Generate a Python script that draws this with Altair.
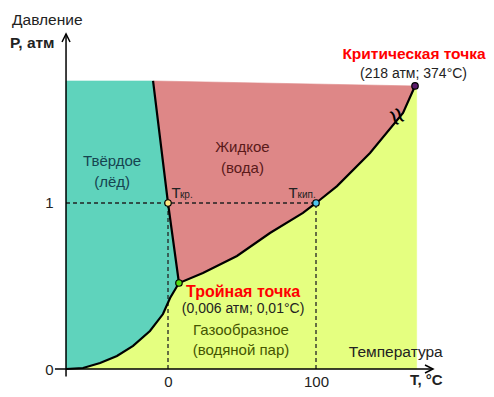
import altair as alt
import pandas as pd

# ---- data (schematic phase diagram of water; T in °C, P in atm) ----
SUB_T = [-68.9, -57.4, -45.9, -34.5, -23.6, -12.2, -3.4, 1.4, 7.4]
SUB_P = [0.0, 0.006, 0.036, 0.078, 0.139, 0.229, 0.331, 0.428, 0.518]
MELT_T = [7.4, 0.0, -10.1]
MELT_P = [0.518, 1.0, 1.735]
VAP_T = [7.4, 23.6, 46.6, 68.9, 91.2, 100.0, 114.2, 136.5, 158.8, 166.9]
VAP_P = [0.518, 0.578, 0.681, 0.819, 0.940, 1.0, 1.102, 1.301, 1.542, 1.705]
T_LEFT = -68.9
T_RIGHT = 168.0
P_TOP_LEFT = 1.735
P_TOP_RIGHT = 1.705
X_TICKS = [0, 100]
Y_TICKS = [0, 1]
PT_NAMES = ["Tкр", "Tкип", "triple", "critical"]
PT_T = [0.0, 100.0, 7.4, 166.9]
PT_P = [1.0, 1.0, 0.518, 1.705]

FONT = "Liberation Sans"
XS = alt.Scale(domain=[-68.92, 179.05], nice=False, zero=False)
YS = alt.Scale(domain=[0, 2.018], nice=False, zero=False)
XAX = alt.Axis(values=X_TICKS, title=None, domain=False, ticks=False, tickSize=0, grid=False,
               labelPadding=5, labelFontSize=15, labelFont=FONT, labelColor="#222")
YAX = alt.Axis(values=Y_TICKS, title=None, domain=False, ticks=False, tickSize=0, grid=False,
               labelPadding=13, labelFontSize=15, labelFont=FONT, labelColor="#222")


def X(f):
    return alt.X(f, type="quantitative", scale=XS, axis=XAX)


def Y(f):
    return alt.Y(f, type="quantitative", scale=YS, axis=YAX)


def pts(ts, ps):
    return list(zip(ts, ps))


sub = pts(SUB_T, SUB_P)
melt = pts(MELT_T, MELT_P)
vap = pts(VAP_T, VAP_P)

solid = [(T_LEFT, P_TOP_LEFT)] + melt[::-1] + sub[::-1][1:]
liquid = [melt[-1]] + vap[::-1] + melt[1:-1]
gas = sub + vap[1:] + [(T_RIGHT, P_TOP_RIGHT), (T_RIGHT, 0.0)]


def poly_df(p):
    return pd.DataFrame({"x": [a for a, b in p], "y": [b for a, b in p], "i": list(range(len(p)))})


def polygon(p, color):
    return alt.Chart(poly_df(p)).mark_line(
        interpolate="linear-closed", fill=color, stroke=color, strokeWidth=0.6
    ).encode(x=X("x"), y=Y("y"), order="i:Q")


def curve(p, w=2.2):
    return alt.Chart(poly_df(p)).mark_line(color="black", strokeWidth=w).encode(
        x=X("x"), y=Y("y"), order="i:Q")


layers = [
    polygon(gas, "#e5ff80"),
    polygon(liquid, "#de8787"),
    polygon(solid, "#5fd3bc"),
]

# dashed guide lines
dash = pd.DataFrame({
    "x": [T_LEFT, PT_T[0], PT_T[1]],
    "x2": [PT_T[1], PT_T[0], PT_T[1]],
    "y": [1.0, 0.0, 0.0],
    "y2": [1.0, PT_P[0], PT_P[1]],
})
layers.append(alt.Chart(dash).mark_rule(color="#222", strokeWidth=1.3, strokeDash=[4, 3]).encode(
    x=X("x"), x2="x2", y=Y("y"), y2="y2"))

layers += [curve(sub + vap[1:]), curve(melt)]


def txt(text, x, y, size, color="#222", weight="normal", align="center", angle=0, baseline="alphabetic"):
    return alt.Chart(pd.DataFrame({"x": [x], "y": [y], "t": [text]})).mark_text(
        font=FONT, fontSize=size, color=color, fontWeight=weight, align=align,
        baseline=baseline, angle=angle).encode(x=X("x"), y=Y("y"), text="t:N")


# break mark on the boiling curve
layers.append(txt("≈", 154.1, 1.518, 30, color="black", angle=60, baseline="middle"))

# points
pcolors = ["#ffe680", "#4fc8f0", "#55dd11", "#5a1a6a"]
pdf = pd.DataFrame({"x": PT_T, "y": PT_P, "n": PT_NAMES})
layers.append(alt.Chart(pdf).mark_point(filled=True, size=42, stroke="black", strokeWidth=1.2, opacity=1).encode(
    x=X("x"), y=Y("y"),
    fill=alt.Fill("n:N", scale=alt.Scale(domain=PT_NAMES, range=pcolors), legend=None)))

# axis lines and arrows
axes = pd.DataFrame({"x": [T_LEFT, -76.4], "x2": [T_LEFT, 179.05], "y": [-0.045, 0.0], "y2": [2.018, 0.0]})
layers.append(alt.Chart(axes).mark_rule(color="black", strokeWidth=1.5).encode(
    x=X("x"), x2="x2", y=Y("y"), y2="y2"))
layers.append(alt.Chart(pd.DataFrame({"x": [T_LEFT], "y": [2.018]})).mark_point(
    shape="M-1,2L0,0L1,2", size=64, filled=False, color="black", strokeWidth=1.5, opacity=1).encode(
    x=X("x"), y=Y("y")))
layers.append(alt.Chart(pd.DataFrame({"x": [179.05], "y": [0.0]})).mark_point(
    shape="M-2,-1L0,0L-2,1", size=64, filled=False, color="black", strokeWidth=1.5, opacity=1).encode(
    x=X("x"), y=Y("y")))

# texts
RED = "#ff0000"
layers += [
    txt("Давление", -105.4, 2.072, 15.5, align="left"),
    txt("P, атм", -106.8, 1.934, 15.5, weight="bold", align="left"),
    txt("Критическая точка", 166.2, 1.867, 15.5, color=RED, weight="bold"),
    txt("(218 атм; 374°C)", 165.9, 1.755, 14),
    txt("Твёрдое", -37.8, 1.223, 15, color="#164450"),
    txt("(лёд)", -37.8, 1.097, 15, color="#164450"),
    txt("Жидкое", 50.3, 1.309, 15, color="#5a1a1a"),
    txt("(вода)", 50.3, 1.183, 15, color="#5a1a1a"),
    txt("Газообразное", 49.3, 0.205, 15, color="#445500"),
    txt("(водяной пар)", 49.3, 0.084, 15, color="#445500"),
    txt("Температура", 153.9, 0.072, 15.5),
    txt("Тройная точка", 50.7, 0.434, 16, color=RED, weight="bold"),
    txt("(0,006 атм; 0,01°C)", 50.7, 0.337, 14),
    txt("T", 2.4, 1.030, 15, align="left"),
    txt("кр.", 8.1, 1.030, 10, align="left"),
    txt("T", 81.4, 1.030, 15, align="left"),
    txt("кип.", 87.5, 1.030, 10, align="left"),
    txt("T, °C", 163.5, -0.096, 15, weight="bold", align="left"),
]

chart = alt.layer(*layers).properties(
    width=367, height=335,
    autosize=alt.AutoSizeParams(type="none"),
    padding={"left": 58, "top": 26, "right": 53, "bottom": 20},
    background="white",
).configure_view(stroke=None)

chart.save("out.html", embed_options={"renderer": "svg", "actions": False})
